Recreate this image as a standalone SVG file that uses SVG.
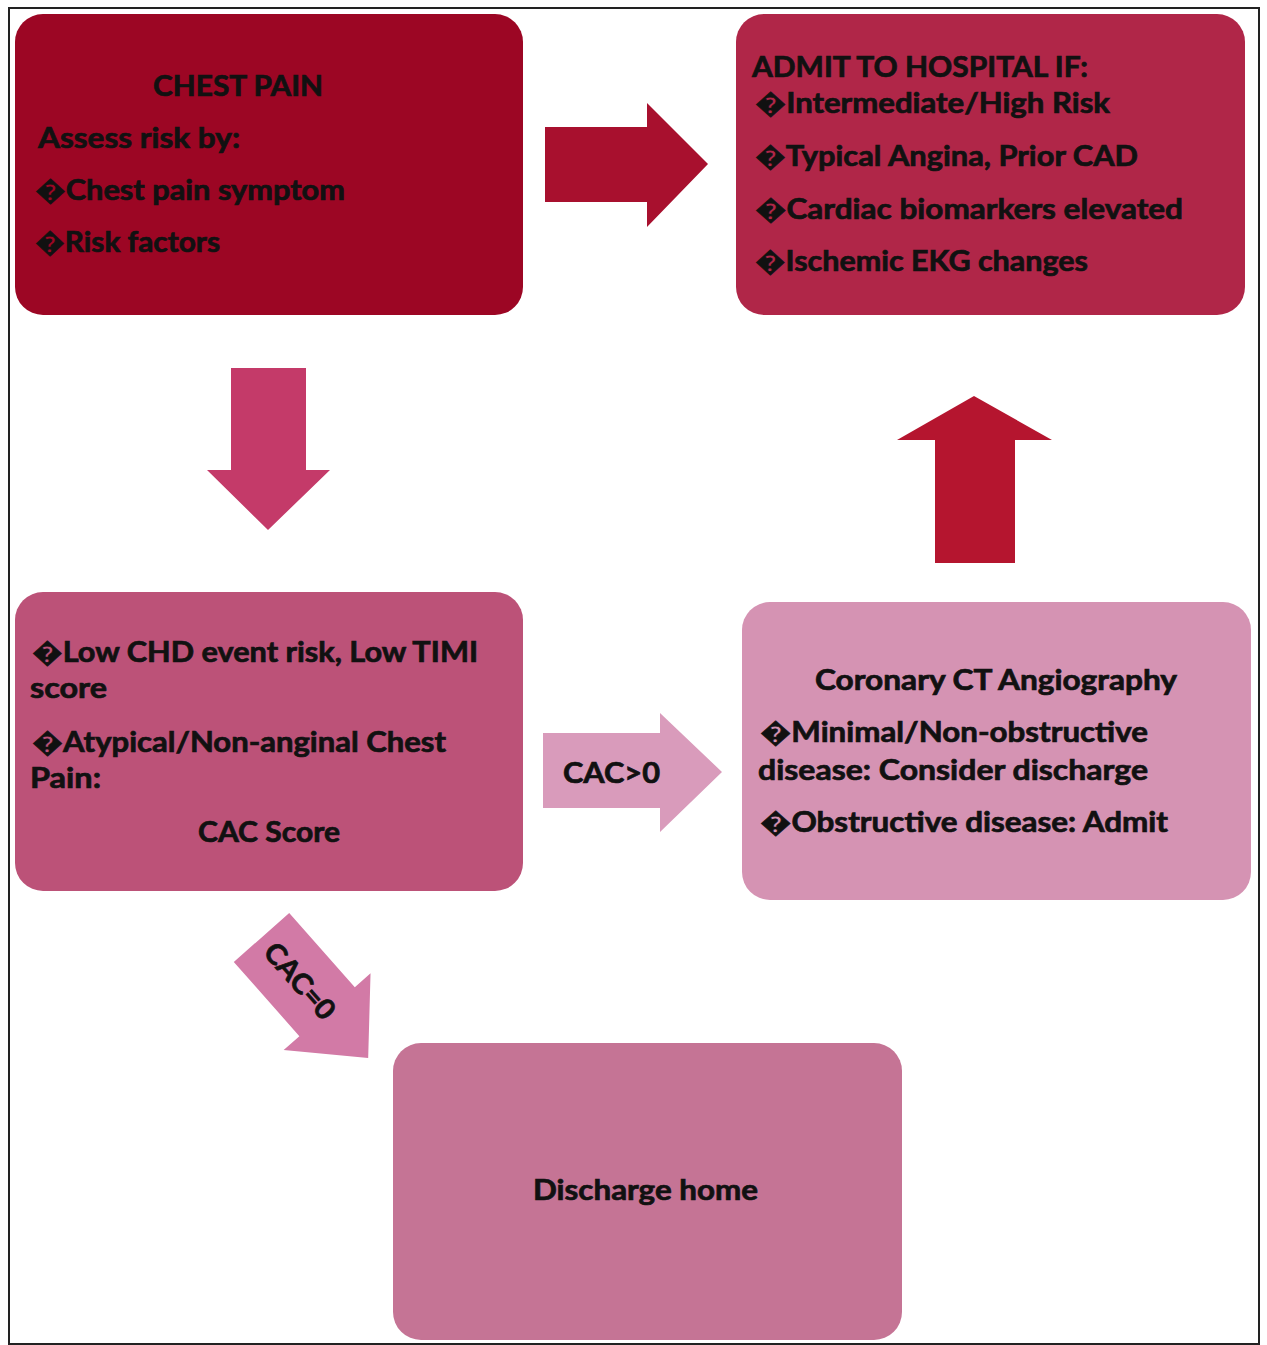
<svg xmlns="http://www.w3.org/2000/svg" width="1267" height="1345" viewBox="0 0 1267 1345">
<style>
text{font-family:Lato,"Open Sans","DejaVu Sans",sans-serif;font-weight:700;font-size:28px;fill:#111;stroke:#111;stroke-width:0.7px}
.c{text-anchor:middle}
</style>
<rect x="0" y="0" width="1267" height="1345" fill="#fff"/>
<rect x="9" y="8" width="1250" height="1336" fill="none" stroke="#222" stroke-width="2"/>
<g id="connectors">
<path id="a-right" d="M545,127 L647,127 L647,103 L708,164 L647,227 L647,202 L545,202 Z" fill="#a8102e"/>
<path id="a-down" d="M231,368 L306,368 L306,470 L330,470 L268,530 L207,470 L231,470 Z" fill="#c43a69"/>
<path id="a-up" d="M935,563 L1015,563 L1015,440 L1052,440 L974,396 L897,440 L935,440 Z" fill="#b5152f"/>
<g id="a-cac-pos">
<path d="M543,733 L660,733 L660,713 L722,772 L660,832 L660,808 L543,808 Z" fill="#d99bbb"/>
<text x="563" y="783" textLength="97" lengthAdjust="spacingAndGlyphs">CAC&gt;0</text>
</g>
<g id="a-cac-zero" transform="translate(261.5,937.5) rotate(48.5)">
<path d="M0,-37 L99,-37 L99,-58 L161,0 L99,58 L99,37 L0,37 Z" fill="#d27aa6"/>
<text x="58" y="10" class="c" textLength="92" lengthAdjust="spacingAndGlyphs">CAC=0</text>
</g>
</g>
<g id="n-chest">
<rect x="15" y="14" width="508" height="301" rx="28" fill="#9c0624"/>
<text x="238" y="96" class="c" textLength="170" lengthAdjust="spacingAndGlyphs">CHEST PAIN</text>
<text x="38" y="148" textLength="202" lengthAdjust="spacingAndGlyphs">Assess risk by:</text>
<text x="35" y="200" textLength="310" lengthAdjust="spacingAndGlyphs">&#xFFFD;Chest pain symptom</text>
<text x="35" y="252" textLength="185" lengthAdjust="spacingAndGlyphs">&#xFFFD;Risk factors</text>
</g>
<g id="n-admit">
<rect x="736" y="14" width="509" height="301" rx="28" fill="#b02648"/>
<text x="752" y="77" textLength="336" lengthAdjust="spacingAndGlyphs">ADMIT TO HOSPITAL IF:</text>
<text x="755" y="113" textLength="355" lengthAdjust="spacingAndGlyphs">&#xFFFD;Intermediate/High Risk</text>
<text x="755" y="166" textLength="383" lengthAdjust="spacingAndGlyphs">&#xFFFD;Typical Angina, Prior CAD</text>
<text x="755" y="219" textLength="428" lengthAdjust="spacingAndGlyphs">&#xFFFD;Cardiac biomarkers elevated</text>
<text x="755" y="271" textLength="333" lengthAdjust="spacingAndGlyphs">&#xFFFD;Ischemic EKG changes</text>
</g>
<g id="n-low">
<rect x="15" y="592" width="508" height="299" rx="28" fill="#bc5278"/>
<text x="32" y="662" textLength="446" lengthAdjust="spacingAndGlyphs">&#xFFFD;Low CHD event risk, Low TIMI</text>
<text x="30" y="698" textLength="77" lengthAdjust="spacingAndGlyphs">score</text>
<text x="32" y="752" textLength="414" lengthAdjust="spacingAndGlyphs">&#xFFFD;Atypical/Non-anginal Chest</text>
<text x="30" y="788" textLength="71" lengthAdjust="spacingAndGlyphs">Pain:</text>
<text x="198" y="842" textLength="142" lengthAdjust="spacingAndGlyphs">CAC Score</text>
</g>
<g id="n-ccta">
<rect x="742" y="602" width="509" height="298" rx="28" fill="#d593b3"/>
<text x="815" y="690" textLength="362" lengthAdjust="spacingAndGlyphs">Coronary CT Angiography</text>
<text x="760" y="742" textLength="388" lengthAdjust="spacingAndGlyphs">&#xFFFD;Minimal/Non-obstructive</text>
<text x="758" y="780" textLength="390" lengthAdjust="spacingAndGlyphs">disease: Consider discharge</text>
<text x="760" y="832" textLength="408" lengthAdjust="spacingAndGlyphs">&#xFFFD;Obstructive disease: Admit</text>
</g>
<g id="n-discharge">
<rect x="393" y="1043" width="509" height="297" rx="28" fill="#c57495"/>
<text x="533" y="1200" textLength="225" lengthAdjust="spacingAndGlyphs">Discharge home</text>
</g>
</svg>
